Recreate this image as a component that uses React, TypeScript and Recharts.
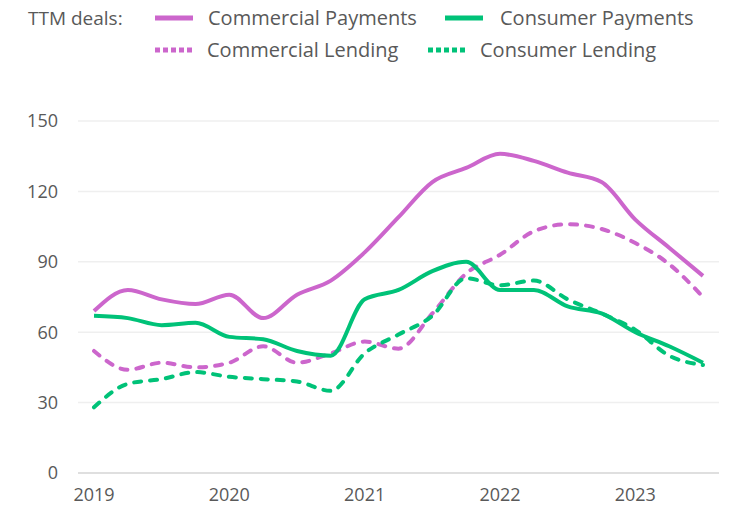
import { LineChart, Line, XAxis, YAxis, CartesianGrid } from "recharts";

const PURPLE = "#CC66CC";
const GREEN = "#00C278";
const TEXT = "#595959";
const FONT = "'Open Sans', sans-serif";

const quarters = [
  "2019 Q1", "2019 Q2", "2019 Q3", "2019 Q4",
  "2020 Q1", "2020 Q2", "2020 Q3", "2020 Q4",
  "2021 Q1", "2021 Q2", "2021 Q3", "2021 Q4",
  "2022 Q1", "2022 Q2", "2022 Q3", "2022 Q4",
  "2023 Q1", "2023 Q2", "2023 Q3",
];

const commercialPayments = [69, 78, 74, 72, 76, 66, 76, 82, 94, 109, 124, 130, 136, 133, 128, 124, 108, 96, 84];
const consumerPayments = [67, 66, 63, 64, 58, 57, 52, 50, 74, 78, 86, 90, 78, 78, 71, 68, 60, 54, 47];
const commercialLending = [52, 44, 47, 45, 47, 54, 47, 51, 56, 53, 68, 85, 93, 103, 106, 104, 98, 89, 75];
const consumerLending = [28, 38, 40, 43, 41, 40, 39, 35, 51, 59, 67, 83, 80, 82, 74, 68, 61, 50, 46];

const yTicks = [0, 30, 60, 90, 120, 150];

const data = quarters.map((q, i) => ({
  q,
  commercialPayments: commercialPayments[i],
  consumerPayments: consumerPayments[i],
  commercialLending: commercialLending[i],
  consumerLending: consumerLending[i],
}));

const tick = { fill: TEXT, fontSize: 18, fontFamily: FONT };

function Swatch({ color, dotted }: { color: string; dotted?: boolean }) {
  return (
    <svg width={38} height={6} style={{ display: "block" }}>
      <line x1={0} y1={3} x2={38} y2={3} stroke={color} strokeWidth={5}
        strokeDasharray={dotted ? "5 3" : undefined} />
    </svg>
  );
}

function LegendItem({ x, y, color, dotted, label, textX }: {
  x: number; y: number; color: string; dotted?: boolean; label: string; textX: number;
}) {
  return (
    <>
      <div style={{ position: "absolute", left: x, top: y - 3 }}>
        <Swatch color={color} dotted={dotted} />
      </div>
      <div style={{ position: "absolute", left: textX, top: y - 14, fontSize: 20, lineHeight: "28px", color: TEXT, fontFamily: FONT, whiteSpace: "nowrap" }}>
        {label}
      </div>
    </>
  );
}

export default function App() {
  return (
    <div style={{ position: "absolute", left: 0, top: 0, width: 736, height: 511, background: "#fff", fontFamily: FONT }}>
      <div style={{ position: "absolute", left: 28, top: 4, fontSize: 19, lineHeight: "28px", color: TEXT }}>TTM deals:</div>
      <LegendItem x={155} y={18} color={PURPLE} label="Commercial Payments" textX={208} />
      <LegendItem x={445} y={18} color={GREEN} label="Consumer Payments" textX={500} />
      <LegendItem x={155} y={50} color={PURPLE} dotted label="Commercial Lending" textX={207} />
      <LegendItem x={428} y={50} color={GREEN} dotted label="Consumer Lending" textX={480} />
      <LineChart width={736} height={511} data={data} margin={{ top: 121, right: 17, bottom: 8, left: 18 }}>
        <CartesianGrid vertical={false} stroke="#efefef" strokeWidth={1.5} />
        <XAxis dataKey="q" interval={3} tickFormatter={(v: string) => v.slice(0, 4)}
          tickLine={false} axisLine={{ stroke: "#d9d9d9", strokeWidth: 1.5 }}
          padding={{ left: 16, right: 16 }} height={30} tick={tick} tickMargin={9} />
        <YAxis domain={[0, 150]} ticks={yTicks} width={60} tickLine={false} axisLine={false}
          tick={tick} tickMargin={14} />
        <Line type="monotone" dataKey="commercialLending" stroke={PURPLE} strokeWidth={4}
          strokeDasharray="7 9" strokeLinecap="round" dot={false} isAnimationActive={false} />
        <Line type="monotone" dataKey="consumerLending" stroke={GREEN} strokeWidth={4}
          strokeDasharray="7 9" strokeLinecap="round" dot={false} isAnimationActive={false} />
        <Line type="monotone" dataKey="commercialPayments" stroke={PURPLE} strokeWidth={4}
          dot={false} isAnimationActive={false} />
        <Line type="monotone" dataKey="consumerPayments" stroke={GREEN} strokeWidth={4}
          dot={false} isAnimationActive={false} />
      </LineChart>
    </div>
  );
}
